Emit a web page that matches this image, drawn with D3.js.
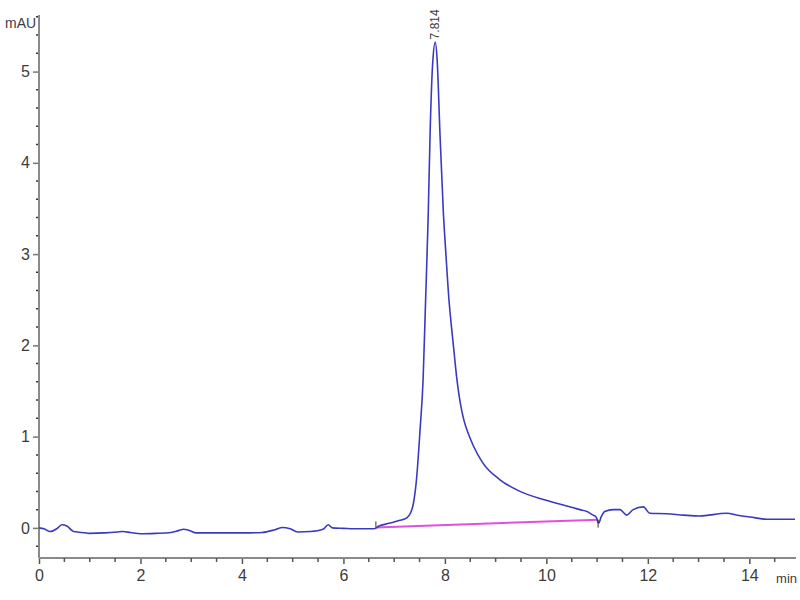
<!DOCTYPE html>
<html>
<head>
<meta charset="utf-8">
<script src="https://cdn.jsdelivr.net/npm/d3@7"></script>
<style>
  html, body { margin: 0; padding: 0; background: #fff; overflow: hidden; }
  svg { display: block; }
</style>
</head>
<body>
<svg id="chart" width="800" height="600"></svg>
<script>
// ---- Data ----
const times = [
  0.00, 0.10, 0.22, 0.35, 0.45, 0.55, 0.68, 0.85, 1.00, 1.30, 1.55, 1.65, 1.80,
  2.00, 2.30, 2.60, 2.75, 2.85, 2.95, 3.10, 3.50, 4.00, 4.40, 4.65, 4.80, 4.95,
  5.10, 5.35, 5.60, 5.70, 5.78, 6.00, 6.30, 6.60, 6.70, 6.90, 7.10, 7.25, 7.32,
  7.38, 7.44, 7.51, 7.57, 7.62, 7.67, 7.71, 7.76, 7.81, 7.85, 7.90, 7.97, 8.02,
  8.08, 8.13, 8.18, 8.23, 8.28, 8.33, 8.38, 8.43, 8.50, 8.56, 8.75, 9.08, 9.48,
  9.94, 10.40, 10.66, 10.80, 10.92, 10.98, 11.03, 11.08, 11.15, 11.32, 11.45,
  11.58, 11.71, 11.91, 12.04, 12.37, 12.70, 13.02, 13.55, 13.80, 14.01, 14.34, 14.90
];
const signal = [
  0.00, -0.01, -0.04, -0.01, 0.035, 0.02, -0.04, -0.05, -0.06, -0.055, -0.045, -0.04, -0.05,
  -0.065, -0.06, -0.05, -0.03, -0.015, -0.025, -0.055, -0.055, -0.055, -0.05, -0.02, 0.005, -0.01,
  -0.045, -0.04, -0.015, 0.035, 0.0, -0.005, -0.01, -0.01, 0.02, 0.05, 0.08, 0.11, 0.16,
  0.27, 0.53, 1.07, 1.62, 2.5, 3.4, 4.36, 5.1, 5.32, 5.1, 4.36, 3.45, 3.0,
  2.5, 2.2, 1.93, 1.66, 1.45, 1.29, 1.17, 1.08, 0.98, 0.90, 0.71, 0.53, 0.40,
  0.31, 0.24, 0.20, 0.18, 0.14, 0.12, 0.05, 0.12, 0.18, 0.20, 0.20,
  0.14, 0.20, 0.23, 0.16, 0.155, 0.14, 0.13, 0.16, 0.135, 0.12, 0.095, 0.095
];
const baselineTimes = [6.64, 11.02];
const baselineValues = [0.005, 0.09];
const peakTime = 7.814;
const peakValue = 5.32;
const peakLabel = "7.814";
const xTickValues = [0, 2, 4, 6, 8, 10, 12, 14];
const yTickValues = [0, 1, 2, 3, 4, 5];
const xUnit = "min";
const yUnit = "mAU";

// ---- Scales ----
const x = d3.scaleLinear().domain([0, 14.92]).range([39, 796]);
const y = d3.scaleLinear().domain([-0.33, 5.62]).range([558, 15]);

const svg = d3.select("#chart");
const axisColor = "#8a8a8a";
const textColor = "#3c3c3c";
const font = "'Liberation Sans Narrow', 'Liberation Sans', Arial, sans-serif";

// ---- X axis ----
const xMinor = d3.range(0, 14.92, 0.5).filter(v => !xTickValues.includes(v));
const xAxisG = svg.append("g").attr("transform", `translate(0,${y.range()[0]})`);
xAxisG.call(d3.axisBottom(x).tickValues(xTickValues).tickSize(6).tickPadding(6).tickFormat(d3.format("d")))
  .call(g => g.select(".domain").remove());
xAxisG.selectAll(".tick line").attr("stroke", "#555").attr("stroke-width", 1.5);
xAxisG.selectAll(".tick text").attr("fill", textColor).attr("font-size", 16).attr("font-family", font);
xAxisG.append("line").attr("x1", x.range()[0]).attr("x2", x.range()[1]).attr("y1", 0).attr("y2", 0)
  .attr("stroke", axisColor).attr("stroke-width", 2);
xAxisG.selectAll(".minor").data(xMinor).enter().append("line")
  .attr("class", "minor")
  .attr("x1", d => x(d)).attr("x2", d => x(d)).attr("y1", 0).attr("y2", 4)
  .attr("stroke", "#555").attr("stroke-width", 1.5);
svg.append("text").attr("x", 797).attr("y", 583).attr("text-anchor", "end").text(xUnit)
  .attr("fill", textColor).attr("font-size", 13).attr("font-family", font);

// ---- Y axis ----
const yMinor = d3.range(-0.2, 5.62, 0.2).map(v => Math.round(v * 10) / 10).filter(v => !yTickValues.includes(v));
const yAxisG = svg.append("g").attr("transform", `translate(${x.range()[0]},0)`);
yAxisG.call(d3.axisLeft(y).tickValues(yTickValues).tickSize(6).tickPadding(3).tickFormat(d3.format("d")))
  .call(g => g.select(".domain").remove());
yAxisG.selectAll(".tick line").attr("stroke", "#777").attr("stroke-width", 1.5);
yAxisG.selectAll(".tick text").attr("fill", textColor).attr("font-size", 16).attr("font-family", font);
yAxisG.append("line").attr("x1", 0).attr("x2", 0).attr("y1", y.range()[0]).attr("y2", y.range()[1])
  .attr("stroke", axisColor).attr("stroke-width", 2);
yAxisG.selectAll(".minor").data(yMinor).enter().append("line")
  .attr("class", "minor")
  .attr("x1", -3).attr("x2", -1).attr("y1", d => y(d)).attr("y2", d => y(d))
  .attr("stroke", "#333").attr("stroke-width", 1.5);
svg.append("text").attr("x", 5).attr("y", 28).text(yUnit)
  .attr("fill", textColor).attr("font-size", 14).attr("font-family", font);

// ---- Integration baseline ----
const baseData = baselineTimes.map((t, i) => [t, baselineValues[i]]);
svg.append("path").datum(baseData)
  .attr("d", d3.line().x(d => x(d[0])).y(d => y(d[1])))
  .attr("fill", "none").attr("stroke", "#e050e0").attr("stroke-width", 2);

// ---- Trace ----
const traceData = times.map((t, i) => [t, signal[i]]);
svg.append("path").datum(traceData)
  .attr("d", d3.line().x(d => x(d[0])).y(d => y(d[1])).curve(d3.curveMonotoneX))
  .attr("fill", "none").attr("stroke", "#3a3ac0").attr("stroke-width", 1.6)
  .attr("stroke-linejoin", "round");

// ---- Integration markers ----
svg.append("line")
  .attr("x1", x(baselineTimes[0])).attr("x2", x(baselineTimes[0]))
  .attr("y1", y(baselineValues[0]) ).attr("y2", y(baselineValues[0]) - 6)
  .attr("stroke", "#333").attr("stroke-width", 1);
svg.append("line")
  .attr("x1", x(baselineTimes[1])).attr("x2", x(baselineTimes[1]))
  .attr("y1", y(baselineValues[1])).attr("y2", y(baselineValues[1]) + 8)
  .attr("stroke", "#333").attr("stroke-width", 1);

// ---- Peak label ----
const px = x(peakTime), py = y(peakValue) - 3;
svg.append("text")
  .attr("transform", `translate(${px + 4},${py}) rotate(-90)`)
  .text(peakLabel)
  .attr("fill", textColor).attr("font-size", 12).attr("font-family", "'Liberation Sans', Arial, sans-serif");
</script>
</body>
</html>
